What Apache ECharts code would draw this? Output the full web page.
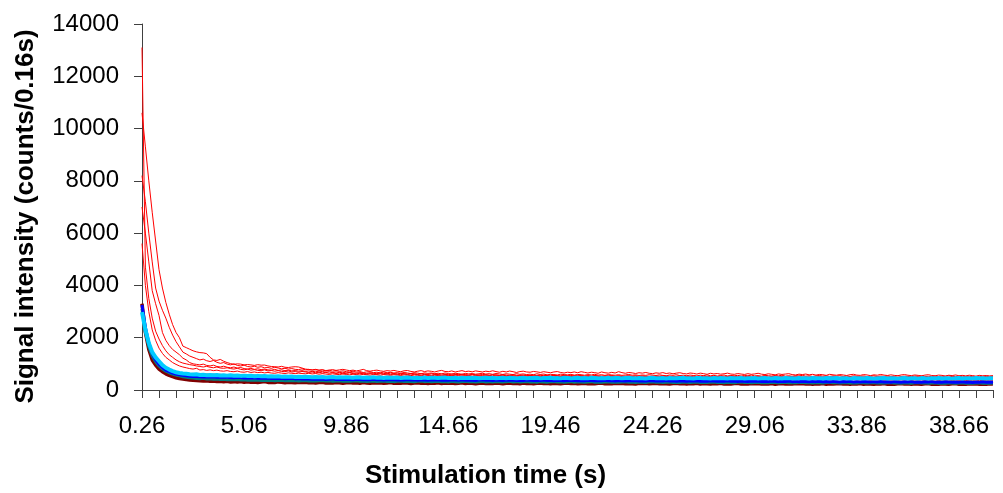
<!DOCTYPE html>
<html><head><meta charset="utf-8">
<script src="https://cdn.jsdelivr.net/npm/echarts@6/dist/echarts.min.js"></script>
<style>html,body{margin:0;padding:0;background:#fff}#c{width:1003px;height:493px}</style>
</head><body><div id="c"></div>
<script>
// time bins: 0.26 s, step 0.16 s
const timeStart = 0.26, timeStep = 0.16, pointCount = 251;
const categories = Array.from({length: pointCount}, (_, i) => (timeStart + timeStep * i).toFixed(2));
const yTicks = [0, 2000, 4000, 6000, 8000, 10000, 12000, 14000];

const redA = [10600,9300,8000,6800,5700,4600,3900,3350,2900,2500,2200,2000,1680,1620,1560,1500,1460,1430,1420,1390,1250,1150,1130,1170,1100,
1050,1010,980,1000,990,960,975,960,940,970,950,955,920,900,890,880,905,870,860,880,890,880,840,800,785,
770,790,760,775,745,760,780,750,770,790,765,740,760,730,755,790,740,720,745,760,730,715,740,725,750,
720,700,735,745,710,690,720,740,705,730,715,690,725,750,710,700,730,690,715,740,705,720,695,730,710,
690,720,700,735,705,680,715,690,725,700,670,705,720,690,680,710,695,670,700,680,660,690,705,670,650,
680,665,690,660,700,675,650,680,665,640,690,660,645,675,650,700,665,640,670,655,630,660,645,670,640,
625,655,640,665,630,650,620,645,660,630,615,650,635,610,645,625,600,640,615,630,605,620,645,610,600,
630,610,595,625,600,615,640,605,590,620,600,580,615,595,610,625,590,575,605,590,610,580,600,570,595,
585,560,600,580,565,590,575,555,585,600,570,560,590,575,550,580,565,595,570,555,580,560,545,575,590,
565,550,575,560,540,570,585,555,545,570,560,535,565,550,575,545,560,540,565,550,530,560,545,555,540,
550];
const redB = [13100,4700,3500,2750,2250,1950,1700,1500,1350,1250,1150,1080,1030,1000,970,950,920,900,880,905,870,850,880,840,830,
850,820,800,830,790,770,800,760,780,750,740,770,730,745,720,740,710,700,730,690,705,680,710,690,670,
690,660,680,650,675,640,665,630,650,620,640,655,625,610,640,620,600,630,610,595,625,600,615,590,610,
600,585,615,590,575,605,590,570,600,580,565,595,575,560,590,570,555,580,600,565,575,550,585,560,570,
555,580,560,545,575,555,570,540,565,550,535,570,555,545,560,530,555,575,540,550,530,560,545,535,555,
540,520,550,535,560,530,545,520,550,535,515,545,530,555,525,540,515,535,550,520,530,510,540,525,515,
535,510,525,545,515,530,505,520,540,510,525,500,530,515,505,535,510,495,525,510,530,500,515,495,520,
505,490,520,505,485,510,525,495,505,485,515,500,490,510,480,500,520,490,505,485,500,475,505,490,510,
485,495,475,505,490,480,500,470,495,485,505,475,490,470,495,480,500,470,485,495,465,490,480,470,495,
480,465,490,475,500,470,485,460,490,475,465,485,470,495,465,480,460,485,470,490,465,475,460,485,470,
480];
const redC = [8200,7200,6000,4900,3900,3400,3050,2750,2400,2100,1850,1650,1450,1380,1300,1250,1200,1150,1180,1120,1090,1130,1060,1020,1050,
990,960,1000,940,920,950,900,880,910,870,890,850,860,830,870,840,810,830,800,820,790,780,810,770,790,
760,780,750,770,730,755,720,745,710,735,700,690,720,680,705,670,690,700,665,680,655,690,660,675,650,
665,640,670,650,630,660,645,620,655,635,650,625,640,615,650,630,610,640,625,600,635,615,630,605,620,
640,610,625,600,630,615,595,620,605,590,625,600,615,590,605,585,620,595,610,580,600,590,575,605,590,
580,600,570,595,585,565,590,575,600,570,585,560,590,575,565,585,560,575,595,565,580,555,575,560,585,
570,555,580,560,545,575,560,585,550,565,545,570,555,540,565,550,575,545,560,535,555,570,540,555,545,
560,535,555,545,570,540,550,530,560,545,535,555,540,565,530,545,525,550,540,560,530,545,520,540,555,
530,545,520,540,530,550,520,535,515,545,530,520,540,510,530,545,515,535,520,540,510,525,545,515,530,
520,505,535,520,540,510,525,505,530,515,500,525,540,510,520,500,530,515,505,525,510,530,500,520,510,
515];
const redD = [7000,6000,4900,3800,3300,2850,2200,1900,1700,1550,1450,1350,1220,1150,1050,1000,980,960,990,940,920,950,900,880,910,
870,850,880,840,860,820,800,830,790,810,780,800,770,760,790,750,770,740,760,730,745,720,740,710,730,
700,720,690,710,680,700,670,690,665,680,650,670,655,640,665,645,630,660,640,625,650,635,620,645,630,
615,640,625,610,635,620,600,630,610,595,625,605,590,615,600,585,610,595,580,605,590,575,600,585,570,
595,580,565,590,575,560,585,570,555,580,565,550,575,560,545,570,555,540,565,550,535,560,545,530,555,
540,560,530,550,535,520,545,530,555,525,540,520,545,530,515,540,525,510,535,520,545,515,530,510,525,
510,535,520,505,530,515,500,525,510,495,520,505,530,500,515,495,520,505,490,515,500,485,510,495,520,
490,505,485,510,495,480,505,490,515,485,500,480,505,490,475,500,485,510,480,495,470,500,485,470,495,
480,500,470,490,475,465,490,480,500,470,485,465,490,475,460,485,470,495,465,480,460,485,470,455,480,
470,490,460,475,455,480,465,485,455,470,450,475,460,480,455,470,450,475,460,445,470,455,475,450,465,
455];
const redE = [5600,4000,3000,2300,1900,1600,1400,1250,1150,1050,980,920,880,850,820,800,830,765,780,750,770,740,760,730,720,
740,710,700,725,690,680,705,670,690,665,680,655,670,650,640,665,645,630,655,640,625,645,630,620,640,
615,630,605,625,610,595,620,600,590,615,595,580,605,590,575,600,585,570,595,580,565,590,575,560,585,
570,555,580,565,550,575,560,545,570,555,540,565,550,535,560,545,570,540,555,530,550,540,525,550,535,
520,545,530,515,540,525,545,515,530,510,535,520,505,530,515,540,510,525,500,520,510,495,520,505,530,
500,515,495,520,505,490,515,500,520,490,505,485,510,495,480,505,490,515,485,500,480,505,490,475,500,
485,470,495,480,500,470,485,465,490,475,460,485,470,495,465,480,460,485,470,455,480,465,490,460,475,
455,480,465,450,475,460,485,455,470,450,475,460,445,470,455,480,450,465,445,470,455,440,465,450,475,
445,460,440,465,450,435,460,445,470,440,455,435,460,445,430,455,440,465,435,450,430,455,440,425,450,
435,455,430,445,425,450,435,460,430,445,425,450,435,420,445,430,455,425,440,420,445,430,415,440,425,
435];
const redF = [3300,2400,1800,1400,1150,980,880,800,750,720,690,670,650,640,625,635,615,620,600,610,595,605,585,600,580,
590,575,585,565,580,560,575,555,570,550,565,545,560,540,555,545,535,550,530,545,525,540,520,535,525,
515,530,510,525,520,505,525,510,500,520,505,495,515,500,490,510,495,485,505,490,480,500,485,495,475,
490,480,500,470,485,475,495,465,480,470,490,460,480,470,485,460,475,465,480,455,470,460,475,450,465,
455,470,445,465,455,470,445,460,450,465,440,455,445,460,435,455,445,460,435,450,440,455,430,450,440,
455,430,445,435,450,425,445,435,450,425,440,430,445,420,440,430,445,420,435,425,440,415,435,425,440,
420,435,425,440,415,430,420,435,410,430,420,435,410,425,415,430,405,425,415,430,405,420,410,425,400,
420,410,425,400,415,405,420,395,415,405,420,395,410,400,415,390,410,400,415,390,405,395,410,385,405,
395,410,385,400,390,405,380,400,390,405,380,395,385,400,375,395,385,400,375,390,380,395,370,390,380,
395,370,385,375,390,365,385,375,390,365,380,370,385,360,380,370,385,360,375,365,380,355,375,365,380,
370];
const cyanLine = [2980,2300,1800,1450,1250,1100,950,850,780,720,680,650,630,620,600,590,600,575,580,565,570,560,575,555,560,
550,565,545,555,540,550,535,545,530,540,525,535,520,530,515,525,510,520,505,515,500,510,495,505,500,
490,500,485,495,480,490,500,480,490,475,485,480,470,485,475,465,480,470,490,465,475,460,480,470,465,
475,460,470,480,465,455,470,460,475,455,465,470,455,465,475,455,460,470,450,465,460,470,455,465,450,
460,470,455,465,450,460,470,450,465,455,445,460,470,450,460,455,465,445,460,455,470,450,460,445,465,
455,445,460,470,450,455,445,465,455,445,460,450,465,445,455,460,445,455,465,450,445,460,450,440,455,
465,450,445,455,440,460,450,445,455,465,445,450,440,455,460,445,450,440,455,445,460,450,440,455,445,
450,460,440,450,445,455,440,450,460,445,440,455,450,440,455,445,450,440,460,445,450,440,455,445,450,
440,455,445,450,460,440,450,445,435,455,445,450,440,455,445,435,450,445,455,440,450,445,435,450,455,
440,450,445,435,455,445,440,450,445,460,440,450,445,435,450,455,440,450,445,440,455,445,450,440,450,
445];
const blueLine = [3250,2400,1800,1400,1150,980,860,760,700,650,610,580,560,545,530,520,515,510,500,505,495,510,490,495,485,
490,480,470,485,475,460,470,455,465,450,460,445,455,440,450,435,445,430,440,450,425,435,420,430,425,
415,425,410,420,405,415,425,405,410,400,415,405,395,410,400,390,405,395,410,390,400,385,395,405,390,
380,395,385,400,380,390,375,395,385,375,390,380,395,375,385,370,390,380,375,390,370,385,375,365,380,
390,370,380,365,385,375,365,380,370,385,365,375,360,380,370,360,375,365,380,360,370,355,375,365,355,
370,360,375,355,365,350,370,360,350,365,355,370,350,360,345,365,355,345,360,350,365,345,355,340,360,
350,340,355,345,360,340,350,335,355,345,335,350,340,355,335,345,330,350,340,330,345,335,350,330,340,
325,345,335,325,340,330,345,325,335,320,340,330,320,335,325,340,320,330,315,335,325,315,330,320,335,
315,325,310,330,320,310,325,315,330,310,320,305,325,315,305,320,310,325,305,315,300,320,310,300,315,
305,320,300,310,295,315,305,320,300,310,295,315,305,295,310,300,315,295,305,290,310,300,315,295,305,
300];
const tealLine = [3100,2200,1650,1300,1080,920,800,720,660,610,570,540,510,490,470,455,440,430,445,420,430,410,420,400,415,
395,405,390,400,380,395,375,385,370,380,365,375,360,370,355,365,375,355,365,350,360,345,355,365,345,
355,340,350,360,340,350,335,345,355,335,345,330,340,350,330,340,325,335,345,325,335,345,325,335,320,
330,340,320,335,325,315,330,340,320,330,315,325,335,315,325,310,330,320,310,325,335,315,325,310,320,
330,310,320,305,325,315,305,320,330,310,320,305,315,325,305,315,300,320,310,300,315,325,305,315,300,
310,320,300,315,305,295,310,320,300,310,295,305,315,300,310,295,305,315,295,305,290,310,300,290,305,
315,295,305,290,300,310,290,300,285,305,295,285,300,310,290,300,285,295,305,285,295,280,300,290,280,
295,305,285,295,280,290,300,280,290,275,295,285,275,290,300,280,290,275,285,295,275,285,270,290,280,
270,285,295,275,285,270,280,290,270,280,265,285,275,265,280,290,270,280,265,275,285,265,275,260,280,
270,260,275,285,265,275,260,270,280,260,270,255,275,265,255,270,280,260,270,255,265,275,255,265,260,
270];
const maroonLine = [3300,2200,1550,1150,950,800,700,620,560,510,470,440,420,400,385,370,360,350,340,355,330,345,320,335,315,
330,310,320,305,325,300,315,295,310,290,305,320,290,300,285,310,295,280,300,290,275,295,285,300,275,
290,270,285,295,270,280,265,290,275,260,280,290,265,275,260,285,270,255,275,265,280,255,270,285,260,
270,255,275,265,250,270,280,255,265,250,270,260,275,250,265,255,270,245,260,275,250,265,255,240,260,
270,250,260,245,265,255,240,260,270,245,255,240,265,250,260,240,255,265,245,255,235,260,250,240,255,
265,245,255,235,250,260,240,250,235,255,265,240,250,235,255,245,260,235,250,240,230,255,245,260,235,
245,255,235,250,240,230,250,260,235,245,230,250,240,255,230,245,235,225,250,240,255,230,240,225,245,
255,230,240,225,245,235,250,225,240,230,245,220,240,250,225,235,225,245,235,250,225,235,220,240,230,
245,220,235,225,240,250,225,235,220,240,230,245,220,235,225,215,240,230,245,220,230,215,235,245,225,
235,220,240,230,215,235,245,220,230,215,240,230,220,235,245,220,230,215,235,225,240,220,230,215,235,
225];

const FONT = '"Liberation Sans", Arial, sans-serif';
function line(data, color, width) {
  return { type: 'line', data: data, symbol: 'none', showSymbol: false, silent: true,
    lineStyle: { color: color, width: width }, itemStyle: { color: color } };
}
const series = [
  line(redF, '#FF0000', 1), line(redE, '#FF0000', 1), line(redD, '#FF0000', 1),
  line(redC, '#FF0000', 1), line(redB, '#FF0000', 1), line(redA, '#FF0000', 1),
  line(maroonLine, '#800000', 3.5), line(tealLine, '#008080', 3),
  line(blueLine, '#0000FF', 3), line(cyanLine, '#00CCFF', 4)
];

const chart = echarts.init(document.getElementById('c'), null, { renderer: 'canvas' });
chart.setOption({
  animation: false,
  backgroundColor: '#ffffff',
  grid: { left: 142, right: 10, top: 24, bottom: 103, containLabel: false },
  xAxis: {
    type: 'category', data: categories, boundaryGap: false,
    axisLine: { show: true, lineStyle: { color: '#404040', width: 1 } },
    axisTick: { show: true, interval: 4, length: 8, lineStyle: { color: '#404040' } },
    axisLabel: { interval: 29, fontSize: 24, color: '#000', margin: 24, fontFamily: FONT },
    splitLine: { show: false }
  },
  yAxis: {
    type: 'value', min: yTicks[0], max: yTicks[yTicks.length - 1], interval: 2000,
    axisLine: { show: true, lineStyle: { color: '#404040', width: 1 } },
    axisTick: { show: true, length: 8, lineStyle: { color: '#404040' } },
    axisLabel: { fontSize: 24, color: '#000', margin: 23, fontFamily: FONT,
      formatter: function (v) { return String(v); } },
    splitLine: { show: false }
  },
  graphic: [
    { type: 'text', x: 485.5, y: 476, silent: true,
      style: { text: 'Stimulation time (s)', fill: '#000', font: 'bold 26px ' + FONT,
        align: 'center', verticalAlign: 'middle', textAlign: 'center', textVerticalAlign: 'middle' } },
    { type: 'text', x: 26, y: 216.5, rotation: Math.PI / 2, silent: true,
      style: { text: 'Signal intensity (counts/0.16s)', fill: '#000', font: 'bold 26px ' + FONT,
        align: 'center', verticalAlign: 'middle', textAlign: 'center', textVerticalAlign: 'middle' } }
  ],
  series: series
});
</script>
</body></html>
